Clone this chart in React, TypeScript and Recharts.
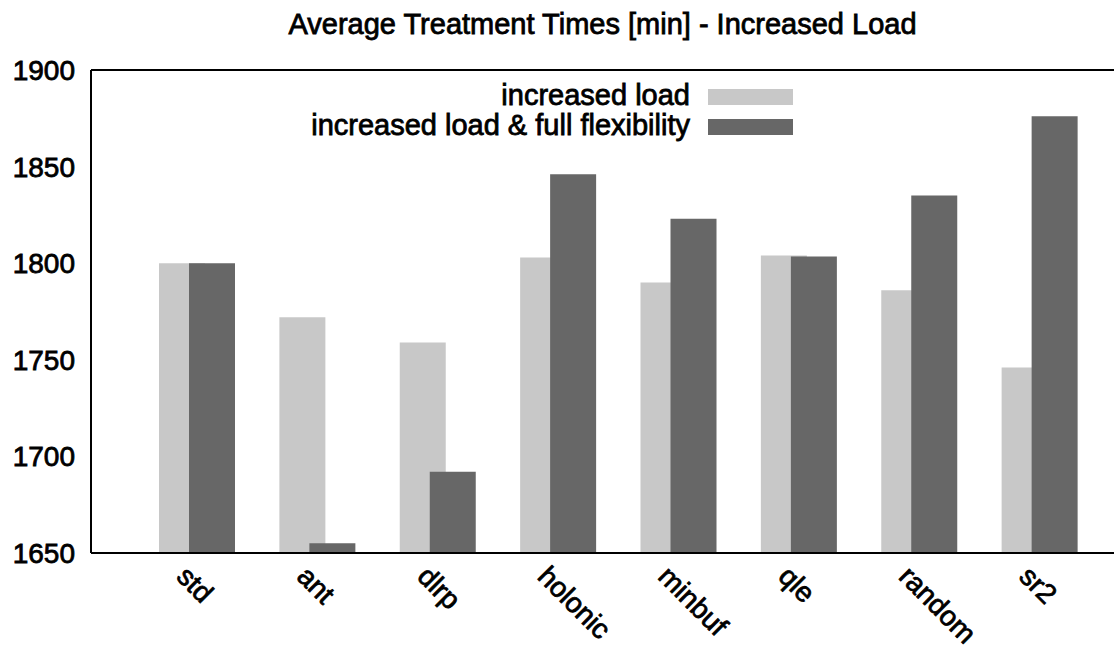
import React from "react";
import { Bar, BarChart, Legend, XAxis, YAxis } from "recharts";

const categories = ["std", "ant", "dlrp", "holonic", "minbuf", "qle", "random", "sr2"];
const increasedLoad = [1800, 1772, 1759, 1803, 1790, 1804, 1786, 1746];
const fullFlexibility = [1800, 1655, 1692, 1846, 1823, 1803.5, 1835, 1876];
const yTicks = [1650, 1700, 1750, 1800, 1850, 1900];
const seriesNames = ["increased load", "increased load & full flexibility"];

const FONT = '"Liberation Sans", Arial, Helvetica, sans-serif';
const LIGHT = "#c8c8c8";
const DARK = "#676767";
// the original text is drawn heavier than a regular weight
const HEAVY = 0.8;

const data = categories.map((name, i) => ({
  name,
  light: increasedLoad[i],
  dark: fullFlexibility[i],
}));

function CategoryTick({ x, y, payload }: any) {
  return (
    <g transform={`translate(${x - 22},${y + 25}) rotate(45)`}>
      <text
        x={0}
        y={0}
        textAnchor="start"
        fill="#000"
        stroke="#000"
        strokeWidth={HEAVY}
        fontSize={28}
        fontFamily={FONT}
      >
        {payload.value}
      </text>
    </g>
  );
}

function KeyBox({ payload }: any) {
  return (
    <div
      style={{
        width: 793,
        fontFamily: FONT,
        fontSize: 29,
        color: "#000",
        WebkitTextStroke: `${HEAVY}px #000`,
      }}
    >
      {(payload || []).map((entry: any) => (
        <div
          key={entry.value}
          style={{ height: 30, display: "flex", justifyContent: "flex-end", alignItems: "flex-start" }}
        >
          <span style={{ lineHeight: "30px", whiteSpace: "nowrap" }}>{entry.value}</span>
          <span
            style={{ width: 85, height: 16, marginTop: 9, marginLeft: 18, background: entry.color }}
          />
        </div>
      ))}
    </div>
  );
}

export default function App() {
  return (
    <div
      style={{
        position: "absolute",
        left: 0,
        top: 0,
        width: 1114,
        height: 645,
        overflow: "hidden",
        background: "#fff",
      }}
    >
      <div
        style={{
          position: "absolute",
          top: 10,
          left: 0,
          width: 1205,
          textAlign: "center",
          fontFamily: FONT,
          fontSize: 29,
          lineHeight: "29px",
          color: "#000",
          WebkitTextStroke: `${HEAVY}px #000`,
          zIndex: 2,
        }}
      >
        Average Treatment Times [min] - Increased Load
      </div>
      <BarChart
        width={1130}
        height={645}
        data={data}
        margin={{ top: 70, right: 14, bottom: 0, left: 0 }}
        barGap={-16}
      >
        <XAxis
          dataKey="name"
          height={92}
          padding={{ left: 46, right: 16 }}
          axisLine={{ stroke: "#000", strokeWidth: 2 }}
          tickLine={false}
          tickSize={0}
          tickMargin={0}
          interval={0}
          tick={<CategoryTick />}
        />
        <XAxis
          xAxisId="top"
          dataKey="name"
          orientation="top"
          mirror
          padding={{ left: 46, right: 16 }}
          axisLine={{ stroke: "#000", strokeWidth: 2 }}
          tickLine={false}
          tick={false}
        />
        <YAxis
          yAxisId="l"
          type="number"
          width={91}
          domain={[1650, 1900]}
          ticks={yTicks}
          allowDataOverflow
          axisLine={{ stroke: "#000", strokeWidth: 2 }}
          tickLine={false}
          tickMargin={16}
          tickSize={0}
          tick={{ fill: "#000", stroke: "#000", strokeWidth: HEAVY, fontSize: 28, fontFamily: FONT }}
        />
        <YAxis
          yAxisId="lt"
          type="number"
          orientation="left"
          mirror
          domain={[1650, 1900]}
          ticks={yTicks}
          allowDataOverflow
          axisLine={false}
          tickSize={13}
          tickLine={{ stroke: "#000", strokeWidth: 2 }}
          tick={false}
        />
        <YAxis
          yAxisId="r"
          type="number"
          orientation="right"
          mirror
          domain={[1650, 1900]}
          ticks={yTicks}
          allowDataOverflow
          axisLine={{ stroke: "#000", strokeWidth: 2 }}
          tickSize={13}
          tickLine={{ stroke: "#000", strokeWidth: 2 }}
          tick={false}
        />
        <Legend
          layout="horizontal"
          verticalAlign="middle"
          align="center"
          content={<KeyBox />}
          wrapperStyle={{ top: 80, left: 0, width: 793, height: 60 }}
        />
        <Bar
          yAxisId="l"
          dataKey="light"
          name={seriesNames[0]}
          fill={LIGHT}
          barSize={46}
          isAnimationActive={false}
        />
        <Bar
          yAxisId="l"
          dataKey="dark"
          name={seriesNames[1]}
          fill={DARK}
          barSize={46}
          isAnimationActive={false}
        />
      </BarChart>
    </div>
  );
}
